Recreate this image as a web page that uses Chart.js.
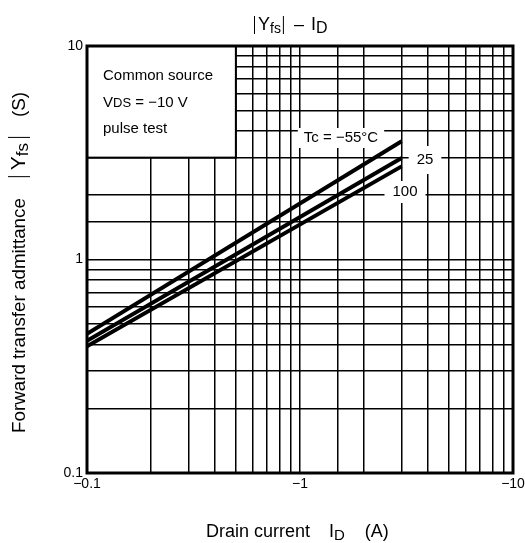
<!DOCTYPE html>
<html>
<head>
<meta charset="utf-8">
<script src="https://cdn.jsdelivr.net/npm/chart.js@4.4.1/dist/chart.umd.min.js"></script>
<style>
  html, body { margin: 0; padding: 0; background: #fff; }
  #wrap { width: 525px; height: 543px; position: relative; }
</style>
</head>
<body>
<div id="wrap"><canvas id="yfs"></canvas></div>
<script>
// Data (|ID| in A, |Yfs| in S)
const drainCurrent = [0.1, 3];
const yfsMinus55 = [0.449, 3.58];
const yfs25 = [0.416, 2.99];
const yfs100 = [0.392, 2.73];
const seriesNames = ['Tc = \u221255\u00b0C', '25', '100'];
const xTickLabels = ['\u22120.1', '\u22121', '\u221210'];
const yTickLabels = ['0.1', '1', '10'];
const xTickValues = [0.1, 1, 10];
const yTickValues = [0.1, 1, 10];

const FONT = '"Liberation Sans", Arial, sans-serif';

function pts(ys) {
  return drainCurrent.map((x, i) => ({ x: x, y: ys[i] }));
}

// white box + text, so the grid is cut behind the label
function label(ctx, txt, x, y, padX, padY) {
  ctx.font = '15px ' + FONT;
  const w = ctx.measureText(txt).width;
  ctx.fillStyle = '#fff';
  ctx.fillRect(x - w / 2 - padX, y - 8 - padY, w + padX * 2, 16 + padY * 2);
  ctx.fillStyle = '#000';
  ctx.textAlign = 'center';
  ctx.textBaseline = 'middle';
  ctx.fillText(txt, x, y);
}

// draws pieces {t, s, dy, pre, post} one after the other on a baseline
// t === '|' is a thin bar going s px up and dy px down
function runText(ctx, parts, x, y) {
  parts.forEach(p => {
    x += p.pre || 0;
    if (p.t === '|') {
      ctx.lineWidth = 1;
      ctx.beginPath();
      ctx.moveTo(x + 0.5, y - p.s);
      ctx.lineTo(x + 0.5, y + p.dy);
      ctx.stroke();
      x += 1 + (p.post || 0);
      return;
    }
    ctx.font = p.s + 'px ' + FONT;
    ctx.fillText(p.t, x, y + (p.dy || 0));
    x += ctx.measureText(p.t).width + (p.post || 0);
  });
}

const behind = {
  id: 'behind',
  beforeDatasetsDraw(chart) {
    const { ctx, scales: { x, y } } = chart;
    ctx.save();
    // condition box in the top left corner
    const bx0 = x.getPixelForValue(0.1), bx1 = x.getPixelForValue(0.5);
    const by0 = y.getPixelForValue(10), by1 = y.getPixelForValue(3);
    ctx.fillStyle = '#fff';
    ctx.fillRect(bx0, by0, bx1 - bx0, by1 - by0);
    ctx.strokeStyle = '#000';
    ctx.lineWidth = 2;
    ctx.strokeRect(bx0, by0, bx1 - bx0, by1 - by0);
    ctx.fillStyle = '#000';
    ctx.textAlign = 'left';
    ctx.textBaseline = 'alphabetic';
    runText(ctx, [{ t: 'Common source', s: 15 }], 103, 80);
    runText(ctx, [{ t: 'V', s: 15 }, { t: 'DS', s: 13 }, { t: ' = \u221210 V', s: 15 }], 103, 107);
    runText(ctx, [{ t: 'pulse test', s: 15 }], 103, 133);
    ctx.restore();
  },
  afterDatasetsDraw(chart) {
    const { ctx, chartArea: a, scales: { x, y } } = chart;
    ctx.save();
    // curve labels
    label(ctx, seriesNames[0], 341, 138, 6, 2);
    label(ctx, seriesNames[1], 425, 160, 8, 6);
    label(ctx, seriesNames[2], 405, 192, 8, 3);

    // frame
    ctx.strokeStyle = '#000';
    ctx.lineWidth = 3;
    ctx.strokeRect(a.left, a.top, a.right - a.left, a.bottom - a.top);

    // tick labels
    ctx.fillStyle = '#000';
    ctx.font = '14px ' + FONT;
    ctx.textAlign = 'right';
    ctx.textBaseline = 'middle';
    yTickValues.forEach((v, i) => ctx.fillText(yTickLabels[i], a.left - 4, y.getPixelForValue(v)));
    ctx.textAlign = 'center';
    ctx.textBaseline = 'top';
    xTickValues.forEach((v, i) => ctx.fillText(xTickLabels[i], x.getPixelForValue(v), a.bottom + 4));

    // chart title  |Yfs| - ID
    ctx.textAlign = 'left';
    ctx.textBaseline = 'alphabetic';
    runText(ctx, [
      { t: '|', s: 14, dy: 4, post: 3 }, { t: 'Y', s: 18 }, { t: 'fs', s: 14, dy: 3, post: 2 },
      { t: '|', s: 14, dy: 4 }, { t: '\u2013', s: 18, pre: 10 }, { t: 'I', s: 18, pre: 7 }, { t: 'D', s: 16, dy: 3 }
    ], 254, 30);

    // x axis title
    runText(ctx, [
      { t: 'Drain current', s: 18 }, { t: 'I', s: 18, pre: 19 }, { t: 'D', s: 15, dy: 3 }, { t: '(A)', s: 18, pre: 20 }
    ], 206, 537);

    // y axis title, rotated
    ctx.translate(25, 433);
    ctx.rotate(-Math.PI / 2);
    runText(ctx, [
      { t: 'Forward transfer admittance', s: 18.8 },
      { t: '|', s: 17, dy: 5, pre: 21, post: 6 }, { t: 'Y', s: 21 }, { t: 'fs', s: 17, dy: 3, post: 5 },
      { t: '|', s: 17, dy: 5 }, { t: '(S)', s: 18.8, pre: 20 }
    ], 0, 0);
    ctx.restore();
  }
};

const lineStyle = { borderColor: '#000', borderWidth: 4, pointRadius: 0, fill: false, tension: 0 };
const gridStyle = { color: '#000', lineWidth: 1.5, drawTicks: false };

new Chart(document.getElementById('yfs'), {
  type: 'line',
  data: {
    datasets: [
      Object.assign({ label: seriesNames[0], data: pts(yfsMinus55) }, lineStyle),
      Object.assign({ label: seriesNames[1], data: pts(yfs25) }, lineStyle),
      Object.assign({ label: seriesNames[2], data: pts(yfs100) }, lineStyle)
    ]
  },
  options: {
    responsive: true,
    maintainAspectRatio: false,
    animation: false,
    layout: { padding: { left: 87, right: 12, top: 46, bottom: 70 } },
    plugins: { legend: { display: false }, tooltip: { enabled: false } },
    scales: {
      x: {
        type: 'logarithmic', min: 0.1, max: 10,
        ticks: { display: false },
        grid: gridStyle,
        border: { display: false }
      },
      y: {
        type: 'logarithmic', min: 0.1, max: 10,
        ticks: { display: false },
        grid: gridStyle,
        border: { display: false }
      }
    }
  },
  plugins: [behind]
});
</script>
</body>
</html>
